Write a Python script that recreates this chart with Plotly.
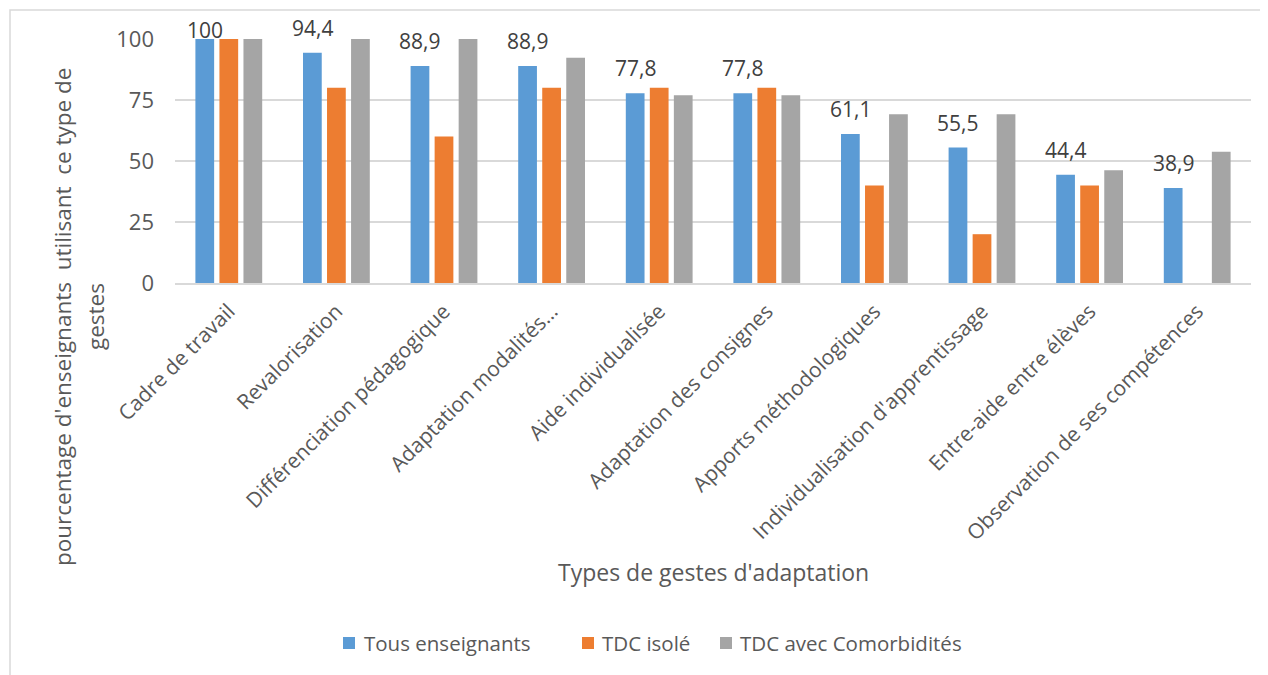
import plotly.graph_objects as go

categories = ["Cadre de travail", "Revalorisation", "Différenciation pédagogique",
              "Adaptation modalités…", "Aide individualisée", "Adaptation des consignes",
              "Apports méthodologiques", "Individualisation d'apprentissage",
              "Entre-aide entre élèves", "Observation de ses compétences"]
tous = [100, 94.4, 88.9, 88.9, 77.8, 77.8, 61.1, 55.5, 44.4, 38.9]
tdc_isole = [100, 80, 60, 80, 80, 80, 40, 20, 40, 0]
tdc_comorb = [100, 100, 100, 92.3, 76.9, 76.9, 69.2, 69.2, 46.2, 53.8]
tous_labels = ["100", "94,4", "88,9", "88,9", "77,8", "77,8", "61,1", "55,5", "44,4", "38,9"]
series_names = ["Tous enseignants", "TDC isolé", "TDC avec Comorbidités"]
colors = ["#5B9BD5", "#ED7D31", "#A5A5A5"]

OFF = 8  # page body margin
W, H = 1268 - OFF, 675 - OFF
# plot area in page pixels
L, R, T, B = 175, 1251, 39, 283
pw, ph = R - L, B - T
FONT = "Open Sans"
TXT = "#595959"

def px(xp):
    return (xp - L) / pw

def py(yp):
    return (B - yp) / ph

xs = list(range(len(categories)))
bargap = 0.33
slot = (1 - bargap) / 3

fig = go.Figure()
for name, vals, c in zip(series_names, [tous, tdc_isole, tdc_comorb], colors):
    fig.add_trace(go.Bar(x=xs, y=vals, name=name, showlegend=False,
                         marker=dict(color=c, line=dict(width=0))))

annotations = []
for i, (v, lab) in enumerate(zip(tous, tous_labels)):
    annotations.append(dict(x=i - slot, y=v, xref="x", yref="y", text=lab, showarrow=False,
                            yanchor="middle", yshift=(9 if v >= 100 else 25),
                            font=dict(family=FONT, size=21, color="#404040")))
for txt, xc in [("pourcentage d'enseignants  utilisant  ce type de", 62), ("gestes", 95)]:
    annotations.append(dict(x=px(xc), y=py(317), xref="paper", yref="paper", text=txt,
                            textangle=-90, showarrow=False, xanchor="center", yanchor="middle",
                            font=dict(family=FONT, size=22.5, color=TXT)))
annotations.append(dict(x=px(713), y=py(572), xref="paper", yref="paper",
                        text="Types de gestes d'adaptation", showarrow=False,
                        xanchor="center", yanchor="middle",
                        font=dict(family=FONT, size=23, color=TXT)))

shapes = [dict(type="rect", xref="paper", yref="paper",
               x0=px(10), x1=px(1290), y0=py(10), y1=py(700),
               line=dict(color="#D9D9D9", width=1.5), fillcolor="rgba(0,0,0,0)", layer="below")]

# manual legend
leg_sq_x = [343, 582, 720]
leg_txt_x = [362, 600, 738]
leg_y = 643
for name, c, sx, tx in zip(series_names, colors, leg_sq_x, leg_txt_x):
    shapes.append(dict(type="rect", xref="paper", yref="paper",
                       x0=px(sx), x1=px(sx + 12), y0=py(leg_y + 6), y1=py(leg_y - 6),
                       line=dict(width=0), fillcolor=c))
    annotations.append(dict(x=px(tx), y=py(leg_y), xref="paper", yref="paper", text=name,
                            showarrow=False, xanchor="left", yanchor="middle",
                            font=dict(family=FONT, size=20.5, color=TXT)))

fig.update_layout(
    width=W, height=H,
    margin=dict(l=L - OFF, r=W - (R - OFF), t=T - OFF, b=H - (B - OFF), autoexpand=False),
    paper_bgcolor="white", plot_bgcolor="white",
    barmode="group", bargap=bargap, bargroupgap=0.22,
    font=dict(family=FONT, color=TXT),
    showlegend=False,
    annotations=annotations,
    shapes=shapes,
)
fig.update_xaxes(range=[-0.5, len(categories) - 0.5], tickmode="array", tickvals=xs,
                 ticktext=categories, tickangle=-45, showgrid=False, zeroline=False,
                 showline=True, linecolor="#D9D9D9", linewidth=1.5, ticks="",
                 ticklabelstandoff=6,
                 tickfont=dict(family=FONT, size=21, color=TXT))
fig.update_yaxes(range=[0, 100], tickvals=[0, 25, 50, 75, 100], showgrid=True,
                 gridcolor="#D9D9D9", gridwidth=1.5, zeroline=False, showline=False,
                 ticks="", ticklen=0, ticklabelstandoff=20,
                 tickfont=dict(family=FONT, size=22, color=TXT))

fig.write_html("out.html")
